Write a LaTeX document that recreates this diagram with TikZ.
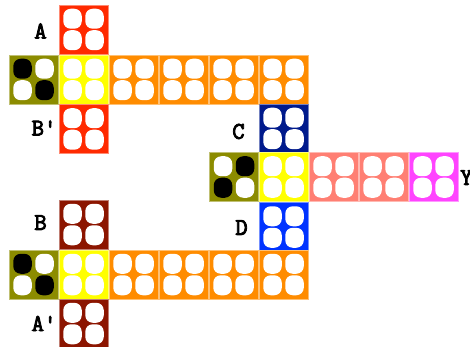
\documentclass[tikz,border=0pt]{standalone}
\usepackage{fontspec}
\newfontfamily\lblfont[FakeBold=3.5]{Latin Modern Mono}
\definecolor{cred}{HTML}{FF2A00}
\definecolor{cyel}{HTML}{FFFF00}
\definecolor{corg}{HTML}{FF8C00}
\definecolor{colv}{HTML}{8C8C00}
\definecolor{cnavy}{HTML}{001A8C}
\definecolor{cblue}{HTML}{0033FF}
\definecolor{csal}{HTML}{FF7F73}
\definecolor{cmag}{HTML}{FF44FF}
\definecolor{cdred}{HTML}{8C1500}
\tikzset{
  cellbox/.style={minimum width=49pt,minimum height=49pt,inner sep=0pt,draw=#1!55!white,fill=#1,line width=0.8pt},
  dotw/.style={minimum width=18.5pt,minimum height=20pt,inner sep=0pt,rounded corners=7.5pt,fill=#1},
  lbl/.style={font=\lblfont\fontsize{24}{24}\selectfont,inner sep=0pt}
}
\newcommand\cellq[8]{%
  \node[cellbox=#4] (#1) at (#2,#3) {};
  \node[dotw=#5] (#1tl) at ([xshift=-11pt,yshift=10.75pt]#1.center) {};
  \node[dotw=#6] (#1tr) at ([xshift=11pt,yshift=10.75pt]#1.center) {};
  \node[dotw=#7] (#1bl) at ([xshift=-11pt,yshift=-10.75pt]#1.center) {};
  \node[dotw=#8] (#1br) at ([xshift=11pt,yshift=-10.75pt]#1.center) {};
}
\newcommand\cellw[4]{\cellq{#1}{#2}{#3}{#4}{white}{white}{white}{white}}
\begin{document}
\begin{tikzpicture}[x=1pt,y=-1pt]
\useasboundingbox (0,0) rectangle (470,347);
% top section
\cellw{a}{83.5}{29.5}{cred}
\cellq{o1}{33.5}{79.5}{colv}{black}{white}{white}{black}
\cellw{y1}{83.5}{79.5}{cyel}
\cellw{ra}{133.5}{79.5}{corg}
\cellw{rb}{183.5}{79.5}{corg}
\cellw{rc}{233.5}{79.5}{corg}
\cellw{rd}{283.5}{79.5}{corg}
\cellw{bp}{83.5}{129}{cred}
% middle section
\cellw{c}{283.5}{128.5}{cnavy}
\cellq{o2}{234}{177}{colv}{white}{black}{black}{white}
\cellw{y2}{283.5}{177}{cyel}
\cellw{sa}{333.5}{177}{csal}
\cellw{sb}{383.5}{177}{csal}
\cellw{m}{433.5}{177}{cmag}
\cellw{d}{283.5}{227}{cblue}
% bottom section
\cellw{b}{83.5}{224.5}{cdred}
\cellq{o3}{33.5}{274.5}{colv}{black}{white}{white}{black}
\cellw{y3}{83.5}{274.5}{cyel}
\cellw{ta}{133.5}{274.5}{corg}
\cellw{tb}{183.5}{274.5}{corg}
\cellw{tc}{233.5}{274.5}{corg}
\cellw{td}{283.5}{274.5}{corg}
\cellw{ap}{83.5}{323.5}{cdred}
% labels
\node[lbl] (la) at (40.5,31) {A};
\node[lbl] (lbp) at (44,128) {B'};
\node[lbl] (lc) at (238.5,131.5) {C};
\node[lbl] (ld) at (241.5,227.5) {D};
\node[lbl,anchor=west] (ly) at (460,177.5) {Y};
\node[lbl] (lb) at (40.5,222.5) {B};
\node[lbl] (lap) at (44,323.5) {A'};
\end{tikzpicture}
\end{document}
